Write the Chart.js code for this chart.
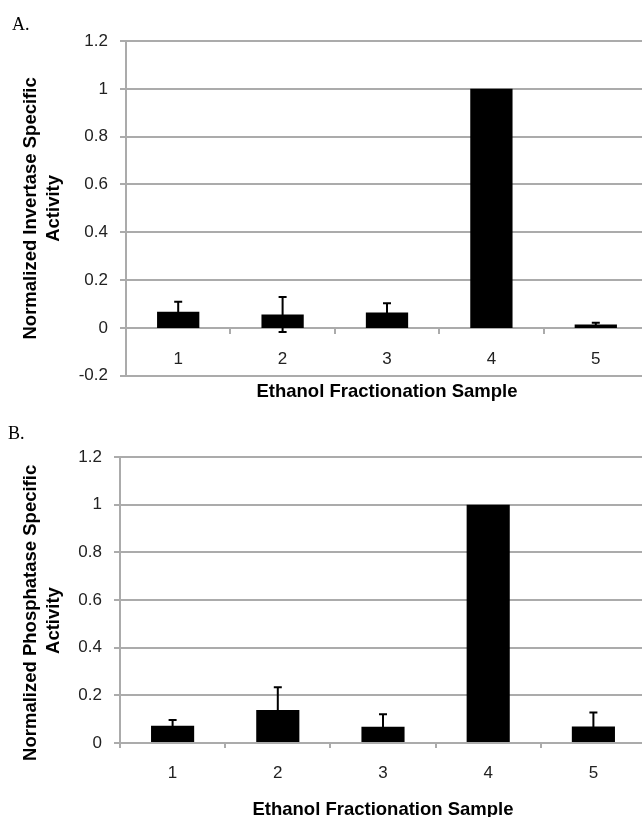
<!DOCTYPE html>
<html>
<head>
<meta charset="utf-8">
<script src="https://cdn.jsdelivr.net/npm/chart.js@4.4.1/dist/chart.umd.min.js"></script>
<style>
  html, body { margin: 0; padding: 0; background: #fff; overflow: hidden; width: 642px; height: 817px; }
  canvas { position: absolute; left: 0; }
  .tag { position: absolute; font: 18px 'Liberation Serif', 'Times New Roman', serif; line-height: 18px; color: #000; }
</style>
</head>
<body>
<canvas id="chartA" width="660" height="405" style="top:0"></canvas>
<canvas id="chartB" width="660" height="420" style="top:405px"></canvas>
<div class="tag" style="left:12px; top:15px;">A.</div>
<div class="tag" style="left:8px; top:424px;">B.</div>
<script>
const samples = ["1", "2", "3", "4", "5"];
const invertase = [0.068, 0.056, 0.065, 1.0, 0.015];
const invertaseErr = [0.042, 0.073, 0.038, 0, 0.007];
const phosphatase = [0.072, 0.138, 0.068, 1.0, 0.069];
const phosphataseErr = [0.024, 0.096, 0.053, 0, 0.059];

const gridGray = "#ababab";
Chart.defaults.font.family = "'Liberation Sans', Arial, sans-serif";
Chart.defaults.color = "#222";

// error bars are drawn from each bar's value +/- error through the y scale
const errorBars = {
  id: "errorBars",
  afterDatasetsDraw(chart) {
    const ctx = chart.ctx;
    const y = chart.scales.y;
    const ds = chart.data.datasets[0];
    const meta = chart.getDatasetMeta(0);
    ctx.save();
    ctx.strokeStyle = "#000";
    ctx.lineWidth = 2;
    meta.data.forEach((bar, i) => {
      const e = ds.errors[i];
      if (!e) return;
      const yt = y.getPixelForValue(ds.data[i] + e);
      const yb = y.getPixelForValue(ds.data[i] - e);
      ctx.beginPath();
      ctx.moveTo(bar.x, yb); ctx.lineTo(bar.x, yt);
      ctx.moveTo(bar.x - 4, yt); ctx.lineTo(bar.x + 4, yt);
      ctx.moveTo(bar.x - 4, yb); ctx.lineTo(bar.x + 4, yb);
      ctx.stroke();
    });
    ctx.restore();
  }
};

function yScale(min, title, width) {
  return {
    min: min,
    max: 1.2,
    ticks: {
      stepSize: 0.2,
      padding: 12,
      font: { size: 17 },
      color: "#222",
      callback: v => String(Math.round(v * 10) / 10)
    },
    grid: { color: gridGray, lineWidth: 2, tickLength: 6 },
    border: { color: gridGray, width: 2 },
    title: {
      display: true,
      text: title,
      color: "#000",
      font: { size: 18.5, weight: "bold", lineHeight: "23px" },
      padding: { top: 19.5, bottom: 0 }
    },
    afterFit: s => { s.width = width; }
  };
}

function xTitle(pad) {
  return {
    display: true,
    text: "Ethanol Fractionation Sample",
    position: "bottom",
    fullSize: false,
    color: "#000",
    font: { size: 18.5, weight: "bold" },
    padding: pad
  };
}

const chartA = new Chart(document.getElementById("chartA").getContext("2d"), {
  type: "bar",
  data: {
    labels: samples,
    datasets: [{
      data: invertase,
      errors: invertaseErr,
      backgroundColor: "#000",
      barPercentage: 0.405,
      categoryPercentage: 1.0
    }]
  },
  options: {
    responsive: false,
    animation: false,
    devicePixelRatio: 1,
    layout: { padding: { top: 41, left: 0, right: 12, bottom: 0 } },
    plugins: {
      legend: { display: false },
      tooltip: { enabled: false },
      title: xTitle({ top: 5, bottom: 2 })
    },
    scales: {
      x: {
        position: { y: 0 },
        grid: { drawOnChartArea: false, drawTicks: true, tickLength: 5, color: gridGray, lineWidth: 2, offset: true },
        border: { color: gridGray, width: 2 },
        ticks: { padding: 16, font: { size: 17 }, color: "#222" },
        afterFit: s => { s.height = 0; }
      },
      y: yScale(-0.2, ["Normalized Invertase Specific", "Activity"], 126)
    }
  },
  plugins: [errorBars]
});

const chartB = new Chart(document.getElementById("chartB").getContext("2d"), {
  type: "bar",
  data: {
    labels: samples,
    datasets: [{
      data: phosphatase,
      errors: phosphataseErr,
      backgroundColor: "#000",
      barPercentage: 0.41,
      categoryPercentage: 1.0
    }]
  },
  options: {
    responsive: false,
    animation: false,
    devicePixelRatio: 1,
    layout: { padding: { top: 52, left: 0, right: 14, bottom: 0 } },
    plugins: {
      legend: { display: false },
      tooltip: { enabled: false },
      title: xTitle({ top: 0.5, bottom: 3.9 })
    },
    scales: {
      x: {
        position: "bottom",
        grid: { drawOnChartArea: false, drawTicks: true, tickLength: 5, color: gridGray, lineWidth: 2, offset: true },
        border: { color: gridGray, width: 2 },
        ticks: { padding: 15, font: { size: 17 }, color: "#222" }
      },
      y: yScale(0, ["Normalized Phosphatase Specific     ", "Activity        "], 120)
    }
  },
  plugins: [errorBars]
});
</script>
</body>
</html>
